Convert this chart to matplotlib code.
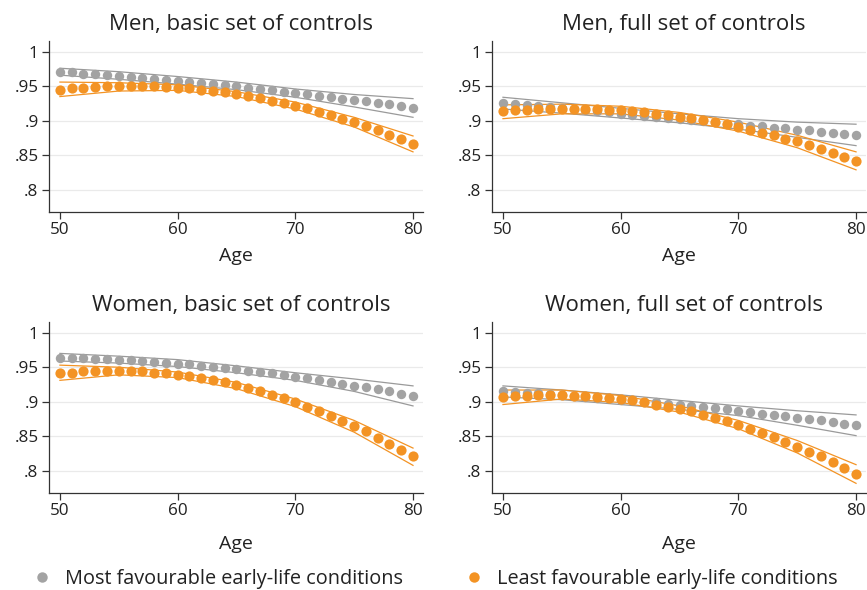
import numpy as np
import matplotlib.pyplot as plt

plt.rcParams['font.family'] = ['Open Sans', 'DejaVu Sans']

# Ages for predicted points, and ages where the confidence bands are read
ages = list(range(50, 81))
band_ages = [50, 55, 60, 65, 70, 75, 80]

# Men, basic set of controls
men_basic_most = [.971, .970, .968, .967, .966, .965, .963, .962, .961, .959, .958,
                  .956, .955, .953, .952, .950, .948, .946, .944, .942, .940,
                  .938, .936, .934, .932, .930, .928, .926, .924, .921, .919]
men_basic_most_hi = [.976, .971, .964, .956, .946, .938, .932]
men_basic_most_lo = [.966, .960, .953, .945, .934, .920, .905]
men_basic_least = [.945, .947, .948, .949, .950, .950, .950, .950, .950, .949, .948,
                   .947, .945, .943, .941, .939, .936, .933, .929, .926, .922,
                   .918, .913, .908, .903, .898, .892, .886, .880, .874, .867]
men_basic_least_hi = [.956, .955, .952, .942, .927, .905, .878]
men_basic_least_lo = [.935, .943, .944, .935, .917, .891, .855]

# Men, full set of controls
men_full_most = [.926, .924, .923, .921, .920, .918, .917, .915, .914, .912, .910,
                 .909, .907, .906, .904, .903, .901, .900, .898, .896, .895,
                 .893, .892, .890, .889, .887, .886, .884, .883, .881, .880]
men_full_most_hi = [.934, .926, .918, .910, .903, .898, .895]
men_full_most_lo = [.917, .911, .904, .897, .888, .876, .864]
men_full_least = [.914, .915, .916, .917, .917, .917, .917, .917, .917, .916, .915,
                  .914, .912, .910, .908, .906, .904, .901, .898, .895, .891,
                  .887, .883, .879, .874, .870, .865, .859, .854, .848, .842]
men_full_least_hi = [.923, .924, .921, .912, .898, .879, .855]
men_full_least_lo = [.903, .910, .910, .901, .885, .861, .829]

# Women, basic set of controls
women_basic_most = [.964, .964, .963, .962, .962, .961, .960, .959, .958, .956, .955,
                    .954, .952, .951, .949, .947, .945, .943, .941, .939, .936,
                    .934, .932, .929, .926, .923, .921, .918, .915, .911, .908]
women_basic_most_hi = [.970, .966, .961, .952, .942, .933, .923]
women_basic_most_lo = [.959, .956, .951, .942, .931, .915, .894]
women_basic_least = [.941, .942, .944, .944, .945, .945, .944, .944, .942, .941, .939,
                     .937, .934, .931, .928, .924, .920, .915, .910, .905, .899,
                     .893, .886, .879, .872, .865, .857, .848, .839, .830, .821]
women_basic_least_hi = [.953, .950, .943, .928, .904, .873, .833]
women_basic_least_lo = [.931, .939, .935, .919, .893, .856, .808]

# Women, full set of controls
women_full_most = [.915, .914, .913, .912, .911, .910, .909, .907, .906, .905, .903,
                   .902, .900, .899, .897, .896, .894, .893, .891, .889, .887,
                   .885, .883, .881, .879, .877, .875, .873, .871, .868, .866]
women_full_most_hi = [.923, .917, .910, .902, .894, .887, .881]
women_full_most_lo = [.907, .903, .896, .889, .880, .866, .851]
women_full_least = [.907, .908, .909, .910, .910, .910, .909, .908, .907, .906, .904,
                    .902, .899, .896, .893, .890, .886, .881, .877, .872, .867,
                    .861, .855, .849, .842, .835, .828, .821, .813, .804, .796]
women_full_least_hi = [.917, .917, .909, .894, .873, .844, .809]
women_full_least_lo = [.896, .904, .899, .885, .861, .826, .782]

titles = ["Men, basic set of controls", "Men, full set of controls",
          "Women, basic set of controls", "Women, full set of controls"]
panels = [
    (men_basic_most, men_basic_most_lo, men_basic_most_hi,
     men_basic_least, men_basic_least_lo, men_basic_least_hi),
    (men_full_most, men_full_most_lo, men_full_most_hi,
     men_full_least, men_full_least_lo, men_full_least_hi),
    (women_basic_most, women_basic_most_lo, women_basic_most_hi,
     women_basic_least, women_basic_least_lo, women_basic_least_hi),
    (women_full_most, women_full_most_lo, women_full_most_hi,
     women_full_least, women_full_least_lo, women_full_least_hi),
]
legend_labels = ["Most favourable early-life conditions",
                 "Least favourable early-life conditions"]

grey = "#a3a3a3"
orange = "#f39324"
text_col = "#222222"

fig = plt.figure(figsize=(8.67, 5.90), dpi=100)
positions = [[0.0565, 0.6407, 0.4314, 0.2898], [0.5675, 0.6407, 0.4314, 0.2898],
             [0.0565, 0.1644, 0.4314, 0.2898], [0.5675, 0.1644, 0.4314, 0.2898]]
age_pads = [6, 6, 11, 11]

for k in range(4):
    ax = fig.add_axes(positions[k])
    most, most_lo, most_hi, least, least_lo, least_hi = panels[k]
    ax.plot(band_ages, most_hi, color="#9a9a9a", lw=0.9, zorder=2)
    ax.plot(band_ages, most_lo, color="#9a9a9a", lw=0.9, zorder=2)
    ax.plot(band_ages, least_hi, color=orange, lw=0.9, zorder=2)
    ax.plot(band_ages, least_lo, color=orange, lw=0.9, zorder=2)
    ax.scatter(ages, most, s=46, color=grey, linewidths=0, zorder=3)
    ax.scatter(ages, least, s=54, color=orange, linewidths=0, zorder=4)

    ax.set_xlim(49.07, 80.85)
    ax.set_ylim(0.768, 1.0154)
    ax.set_xticks([50, 60, 70, 80])
    ax.set_yticks([1, .95, .9, .85, .8])
    ax.set_yticklabels(["1", ".95", ".9", ".85", ".8"])
    ax.grid(axis='y', color="#eaeaea", lw=0.9)
    ax.set_axisbelow(True)
    for side in ['top', 'right']:
        ax.spines[side].set_visible(False)
    for side in ['left', 'bottom']:
        ax.spines[side].set_color("#333333")
        ax.spines[side].set_linewidth(0.9)
    ax.tick_params(colors="#333333", labelcolor=text_col, labelsize=12.3, length=5,
                   width=0.9, pad=2.5)
    ax.set_xlabel("Age", fontsize=14, color=text_col, labelpad=age_pads[k])
    ax.set_title(titles[k], fontsize=16, color=text_col, pad=8, x=0.513)

h1 = plt.Line2D([], [], ls='none', marker='o', ms=7.5, color=grey, mew=0)
h2 = plt.Line2D([], [], ls='none', marker='o', ms=7.5, color=orange, mew=0)
fig.legend([h1, h2], legend_labels, loc='center', bbox_to_anchor=(0.498, 0.018),
           ncol=2, frameon=False, fontsize=14.3, handletextpad=0.35,
           columnspacing=2.8, handlelength=1.6, labelcolor=text_col)

plt.savefig("out.png", dpi=100)
